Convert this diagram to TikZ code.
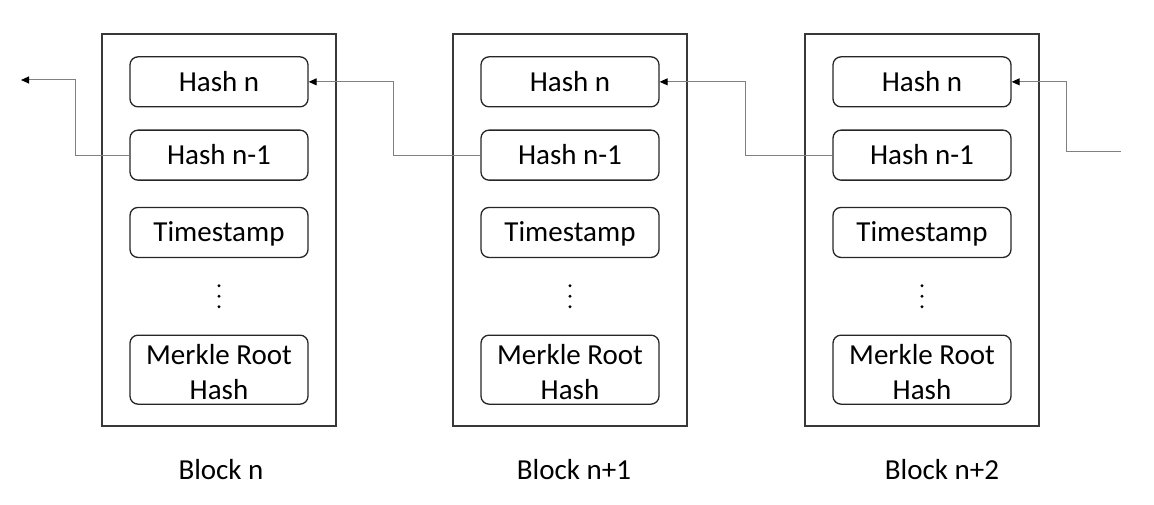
\documentclass[tikz,border=0pt]{standalone}
\usepackage{fontspec}
\setmainfont{Carlito}
\usetikzlibrary{positioning,arrows.meta}
\definecolor{frame-gray}{gray}{0.22}
\definecolor{link-gray}{gray}{0.5}
\tikzset{
    block-box/.style = {draw=frame-gray, line width=1.6pt, rectangle, minimum width=234pt, minimum height=392pt, inner sep=0pt},
    field-box/.style = {draw=black!85, line width=1.3pt, rectangle, rounded corners=8pt, minimum width=178pt, minimum height=50pt, inner sep=0pt, text height=19pt, text depth=0pt, font=\fontsize{29}{35}\selectfont},
    dots-box/.style = {minimum width=4pt, minimum height=24pt, inner sep=0pt},
    block-title/.style = {inner sep=0pt, text height=19pt, text depth=0pt, font=\fontsize{29}{35}\selectfont},
    link-line/.style = {draw=link-gray, line width=1pt, -{Triangle[length=8pt, width=7pt, color=black]}},
}

\begin{document}
\begin{tikzpicture}[x=1pt, y=-1pt]
\useasboundingbox (0,0) rectangle (1154,505);
% one block per step of the chain
\foreach \i/\x/\lx/\name in {1/219/221/n, 2/570/574/n+1, 3/922/942/n+2} {
    \node[block-box] (b\i) at (\x,230) {};
    \node[field-box, below=23pt of b\i.north] (b\i-hash) {Hash n};
    \node[field-box, below=22pt of b\i-hash] (b\i-prev) {Hash n-1};
    \node[field-box, below=26pt of b\i-prev] (b\i-time) {Timestamp};
    \node[dots-box, below=26pt of b\i-time] (b\i-dots) {};
    \node[field-box, below=26pt of b\i-dots, minimum height=69pt, text height=59pt, align=center] (b\i-root) {Merkle Root\\Hash};
    \foreach \d in {-10.5,0,10.5}
        \fill ([yshift=\d pt]b\i-dots.center) circle (1.6pt);
    \node[block-title] (b\i-title) at (\lx,470) {Block \name};
}
\coordinate (chain-left) at (21,80);
\coordinate (chain-right) at (1121,152);
% links back to the previous hash
\draw[link-line] (b1-prev.west) -- ++(-54pt,0) |- (chain-left);
\foreach \i/\j in {1/2, 2/3}
    \draw[link-line] (b\j-prev.west) -- ++(-87pt,0) |- (b\i-hash.east);
\draw[link-line] (chain-right) -- ++(-55pt,0) |- (b3-hash.east);
\end{tikzpicture}
\end{document}
